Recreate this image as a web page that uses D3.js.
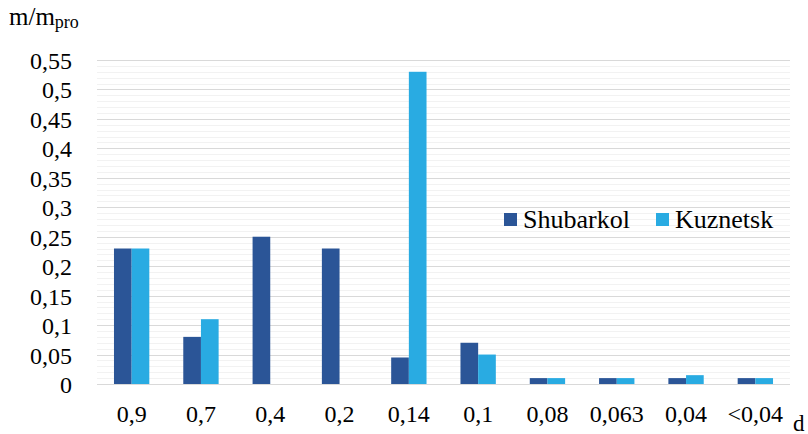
<!doctype html>
<html lang="en">
<head>
	<meta charset="UTF-8">
	<title>m/mpro by d</title>
	<script src="https://d3js.org/d3.v7.min.js"></script>
	<style>
		body { margin: 0; padding: 0; background: #fff; }
	</style>
</head>
<body>
	<div id="chart"></div>
	<script>
		// Data
		const categories = ['0,9', '0,7', '0,4', '0,2', '0,14', '0,1', '0,08', '0,063', '0,04', '<0,04'];
		const seriesNames = ['Shubarkol', 'Kuznetsk'];
		const shubarkol = [0.23, 0.08, 0.25, 0.23, 0.045, 0.07, 0.01, 0.01, 0.01, 0.01];
		const kuznetsk = [0.23, 0.11, 0, 0, 0.53, 0.05, 0.01, 0.01, 0.015, 0.01];
		const yTicks = [0, 0.05, 0.1, 0.15, 0.2, 0.25, 0.3, 0.35, 0.4, 0.45, 0.5, 0.55];

		const width = 808;
		const height = 434;
		const margin = { top: 60, right: 18, bottom: 50, left: 97 };
		const serif = '"Liberation Serif"';
		const colors = d3.scaleOrdinal().domain(seriesNames).range(['#2b5597', '#29abe2']);

		const svg = d3.select('#chart').append('svg')
			.attr('width', width)
			.attr('height', height);

		const x = d3.scaleBand()
			.domain(categories)
			.range([margin.left, width - margin.right])
			.paddingInner(0.49)
			.paddingOuter(0.245);

		const xSub = d3.scaleBand()
			.domain(seriesNames)
			.range([0, x.bandwidth()]);

		const y = d3.scaleLinear()
			.domain([0, 0.55])
			.range([height - margin.bottom, margin.top]);

		// minor gridlines
		svg.append('g')
			.selectAll('line')
			.data(d3.range(1, 55).filter((v) => v % 5 !== 0).map((v) => v / 100))
			.enter().append('line')
			.attr('x1', margin.left)
			.attr('x2', width - margin.right)
			.attr('y1', (d) => Math.round(y(d)) + 0.5)
			.attr('y2', (d) => Math.round(y(d)) + 0.5)
			.attr('stroke', '#f2f2f2');

		// major gridlines
		svg.append('g')
			.selectAll('line')
			.data(yTicks)
			.enter().append('line')
			.attr('x1', margin.left)
			.attr('x2', width - margin.right)
			.attr('y1', (d) => Math.round(y(d)) + 0.5)
			.attr('y2', (d) => Math.round(y(d)) + 0.5)
			.attr('stroke', '#d9d9d9');

		// y tick labels
		svg.append('g')
			.selectAll('text')
			.data(yTicks)
			.enter().append('text')
			.style('font-family', serif)
			.attr('font-size', 24)
			.attr('x', 72)
			.attr('y', (d) => y(d) + 9)
			.attr('text-anchor', 'end')
			.text((d) => String(d).replace('.', ','));

		// bars
		const groups = svg.append('g')
			.selectAll('g')
			.data(categories)
			.enter().append('g')
			.attr('transform', (d) => 'translate(' + x(d) + ',0)');

		groups.selectAll('rect')
			.data((d, i) => [
				{ name: 'Shubarkol', value: shubarkol[i] },
				{ name: 'Kuznetsk', value: kuznetsk[i] }
			])
			.enter().append('rect')
			.attr('x', (d) => xSub(d.name))
			.attr('width', xSub.bandwidth())
			.attr('y', (d) => y(d.value))
			.attr('height', (d) => y(0) - y(d.value))
			.attr('fill', (d) => colors(d.name));

		// x labels
		svg.append('g')
			.selectAll('text')
			.data(categories)
			.enter().append('text')
			.style('font-family', serif)
			.attr('font-size', 24)
			.attr('x', (d) => x(d) + x.bandwidth() / 2)
			.attr('y', 422)
			.attr('text-anchor', 'middle')
			.text((d) => d);

		// axis titles
		const yTitle = svg.append('text')
			.style('font-family', serif)
			.attr('font-size', 25)
			.attr('x', 9)
			.attr('y', 25)
			.text('m/m');
		yTitle.append('tspan')
			.attr('font-size', 18)
			.attr('dy', 3)
			.text('pro');

		svg.append('text')
			.style('font-family', serif)
			.attr('font-size', 23)
			.attr('x', 793)
			.attr('y', 431)
			.text('d');

		// legend
		const legendPos = [504, 656];
		const legend = svg.append('g')
			.selectAll('g')
			.data(seriesNames)
			.enter().append('g')
			.attr('transform', (d, i) => 'translate(' + legendPos[i] + ',213)');

		legend.append('rect')
			.attr('width', 13)
			.attr('height', 13)
			.attr('fill', colors);

		legend.append('text')
			.style('font-family', serif)
			.attr('font-size', 26)
			.attr('x', 19)
			.attr('y', 15)
			.text((d) => d);
	</script>
</body>
</html>
